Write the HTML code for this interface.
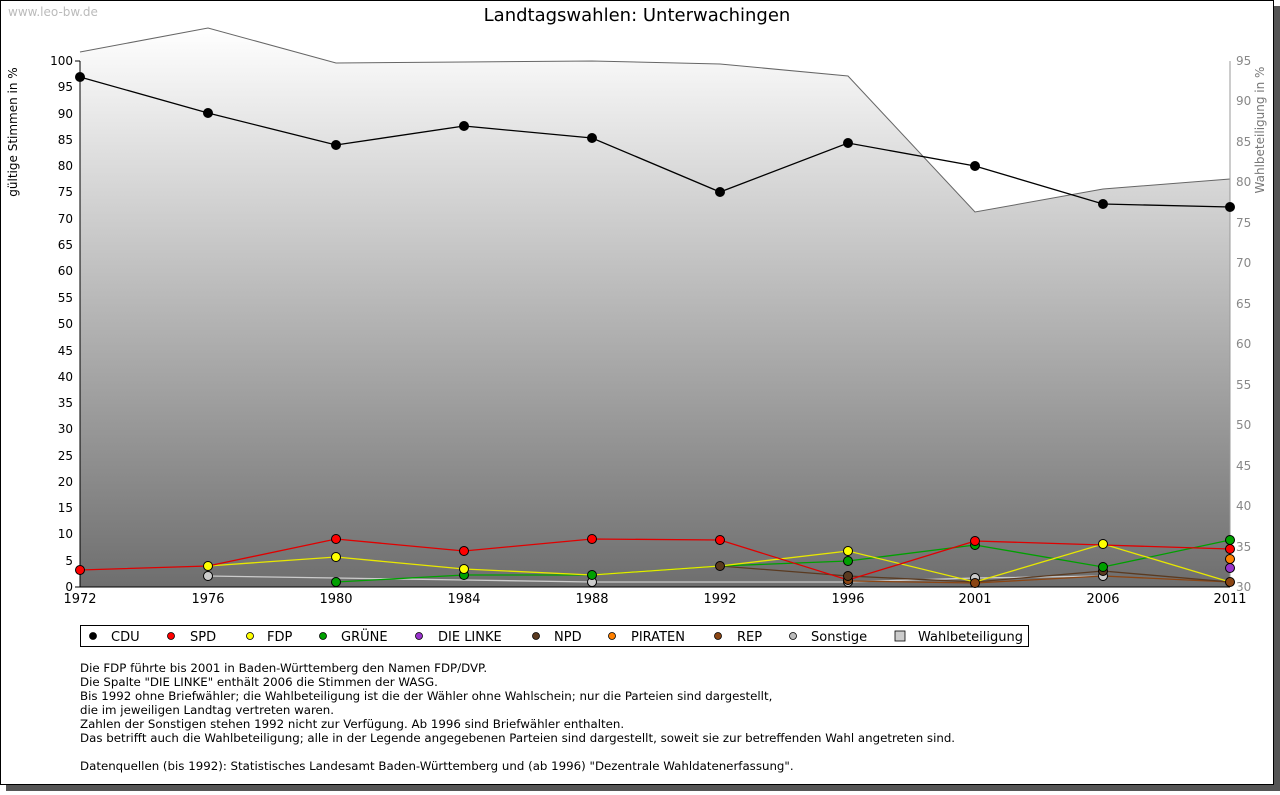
<!DOCTYPE html>
<html><head><meta charset="utf-8"><style>
body{margin:0;background:#fff;width:1280px;height:791px;overflow:hidden;font-family:"DejaVu Sans","Liberation Sans",sans-serif}
</style></head><body>
<svg width="1280" height="791" xmlns="http://www.w3.org/2000/svg" font-family="DejaVu Sans, Liberation Sans, sans-serif">
<defs>
<linearGradient id="g" x1="0" y1="28" x2="0" y2="587" gradientUnits="userSpaceOnUse">
<stop offset="0" stop-color="#ffffff"/><stop offset="1" stop-color="#6e6e6e"/></linearGradient>
</defs>
<rect x="6" y="6" width="1274" height="785" fill="#555"/>
<rect x="0.5" y="0.5" width="1273" height="784" fill="#fff" stroke="#000"/>
<text x="8" y="16" font-size="12" fill="#bbb">www.leo-bw.de</text>
<text x="637" y="21" font-size="18" text-anchor="middle" fill="#000">Landtagswahlen: Unterwachingen</text>
<polygon points="80,52 208,28 336,63 464,62 592,61 720,64 848,76 975,212 1103,189 1230,179 1230,587 80,587" fill="url(#g)"/>
<polyline points="80,52 208,28 336,63 464,62 592,61 720,64 848,76 975,212 1103,189 1230,179" fill="none" stroke="#666" stroke-width="1"/>
<g stroke="#000" stroke-width="1">
<line x1="80" y1="61" x2="80" y2="587"/><line x1="80" y1="587" x2="1230" y2="587"/>
<line x1="1230" y1="61" x2="1230" y2="587" stroke="#999"/>
</g>
<g font-size="12" text-anchor="end" fill="#000">
<text x="73" y="538">10</text><text x="73" y="591">0</text><text x="73" y="565">5</text><text x="73" y="512">15</text><text x="73" y="486">20</text><text x="73" y="460">25</text><text x="73" y="433">30</text><text x="73" y="407">35</text><text x="73" y="381">40</text><text x="73" y="355">45</text><text x="73" y="328">50</text><text x="73" y="302">55</text><text x="73" y="275">60</text><text x="73" y="249">65</text><text x="73" y="223">70</text><text x="73" y="196">75</text><text x="73" y="170">80</text><text x="73" y="144">85</text><text x="73" y="118">90</text><text x="73" y="91">95</text><text x="73" y="65">100</text>
</g>
<g stroke="#000"><line x1="75" y1="61" x2="80" y2="61"/><line x1="75" y1="587" x2="80" y2="587"/></g>
<g font-size="12" fill="#888">
<text x="1236" y="591">30</text><text x="1236" y="551">35</text><text x="1236" y="510">40</text><text x="1236" y="470">45</text><text x="1236" y="429">50</text><text x="1236" y="389">55</text><text x="1236" y="348">60</text><text x="1236" y="308">65</text><text x="1236" y="267">70</text><text x="1236" y="227">75</text><text x="1236" y="186">80</text><text x="1236" y="146">85</text><text x="1236" y="105">90</text><text x="1236" y="65">95</text>
</g>
<text transform="translate(17,132) rotate(-90)" font-size="12" text-anchor="middle">gültige Stimmen in %</text>
<text transform="translate(1264,130) rotate(-90)" font-size="12" fill="#777" text-anchor="middle">Wahlbeteiligung in %</text>
<g font-size="13" text-anchor="middle">
<text x="80" y="603">1972</text><text x="208" y="603">1976</text><text x="336" y="603">1980</text><text x="464" y="603">1984</text><text x="592" y="603">1988</text><text x="720" y="603">1992</text><text x="848" y="603">1996</text><text x="975" y="603">2001</text><text x="1103" y="603">2006</text><text x="1230" y="603">2011</text>
</g>
<g fill="none" stroke-width="1.3">
<polyline stroke="#ccc" points="208,576 336,578 464,580 592,582 848,582 975,578 1103,576"/>
<polyline stroke="#8b4513" points="848,581 975,583 1103,576 1230,582"/>
<polyline stroke="#5a3a20" points="720,566 848,576 975,582 1103,571 1230,582"/>
<polyline stroke="#00a000" points="336,582 464,575 592,575 720,566 848,561 975,545 1103,567 1230,540"/>
<polyline stroke="#e8e800" points="208,566 336,557 464,569 592,575 720,566 848,551 975,582 1103,544 1230,582"/>
<polyline stroke="#e00000" points="80,570 208,566 336,539 464,551 592,539 720,540 848,580 975,541 1103,545 1230,549"/>
<polyline stroke="#000" points="80,77 208,113 336,145 464,126 592,138 720,192 848,143 975,166 1103,204 1230,207"/>
</g>
<g stroke="#000" stroke-width="1">
<g fill="#ccc"><circle cx="208" cy="576" r="4.5"/><circle cx="592" cy="582" r="4.5"/><circle cx="848" cy="582" r="4.5"/><circle cx="975" cy="578" r="4.5"/><circle cx="1103" cy="576" r="4.5"/></g>
<g fill="#8b4513"><circle cx="848" cy="580" r="4.5"/><circle cx="975" cy="583" r="4.5"/><circle cx="1230" cy="582" r="4.5"/></g>
<g fill="#5a3a20"><circle cx="720" cy="566" r="4.5"/><circle cx="848" cy="576" r="4.5"/><circle cx="1103" cy="571" r="4.5"/></g>
<g fill="#00a000"><circle cx="336" cy="582" r="4.5"/><circle cx="464" cy="575" r="4.5"/><circle cx="592" cy="575" r="4.5"/><circle cx="848" cy="561" r="4.5"/><circle cx="975" cy="545" r="4.5"/><circle cx="1103" cy="567" r="4.5"/><circle cx="1230" cy="540" r="4.5"/></g>
<g fill="#ffff00"><circle cx="208" cy="566" r="4.5"/><circle cx="336" cy="557" r="4.5"/><circle cx="464" cy="569" r="4.5"/><circle cx="848" cy="551" r="4.5"/><circle cx="1103" cy="544" r="4.5"/></g>
<g fill="#ff0000"><circle cx="80" cy="570" r="4.5"/><circle cx="336" cy="539" r="4.5"/><circle cx="464" cy="551" r="4.5"/><circle cx="592" cy="539" r="4.5"/><circle cx="720" cy="540" r="4.5"/><circle cx="975" cy="541" r="4.5"/><circle cx="1230" cy="549" r="4.5"/></g>
<circle cx="1230" cy="559" r="4.5" fill="#ff8000"/><circle cx="1230" cy="568" r="4.5" fill="#9933cc"/>
<g fill="#000"><circle cx="80" cy="77" r="4.5"/><circle cx="208" cy="113" r="4.5"/><circle cx="336" cy="145" r="4.5"/><circle cx="464" cy="126" r="4.5"/><circle cx="592" cy="138" r="4.5"/><circle cx="720" cy="192" r="4.5"/><circle cx="848" cy="143" r="4.5"/><circle cx="975" cy="166" r="4.5"/><circle cx="1103" cy="204" r="4.5"/><circle cx="1230" cy="207" r="4.5"/></g>
</g>
<rect x="80.5" y="625.5" width="948" height="21" fill="#fff" stroke="#000"/>
<g stroke="#000" stroke-width="0.8">
<circle cx="93" cy="636" r="3.5" fill="#000"/><circle cx="171" cy="636" r="3.5" fill="#f00"/><circle cx="250" cy="636" r="3.5" fill="#ff0"/><circle cx="323" cy="636" r="3.5" fill="#00a000"/><circle cx="419" cy="636" r="3.5" fill="#9933cc"/><circle cx="536" cy="636" r="3.5" fill="#5a3a20"/><circle cx="612" cy="636" r="3.5" fill="#ff8000"/><circle cx="718" cy="636" r="3.5" fill="#8b4513"/><circle cx="793" cy="636" r="3.5" fill="#bbb"/><rect x="895" y="631" width="10" height="10" fill="#ccc"/>
</g>
<g font-size="13">
<text x="111" y="641">CDU</text><text x="190" y="641">SPD</text><text x="267" y="641">FDP</text><text x="341" y="641">GRÜNE</text><text x="438" y="641">DIE LINKE</text><text x="554" y="641">NPD</text><text x="631" y="641">PIRATEN</text><text x="737" y="641">REP</text><text x="811" y="641">Sonstige</text><text x="918" y="641">Wahlbeteiligung</text>
</g>
<g font-size="11.8">
<text x="80" y="672">Die FDP führte bis 2001 in Baden-Württemberg den Namen FDP/DVP.</text>
<text x="80" y="686">Die Spalte "DIE LINKE" enthält 2006 die Stimmen der WASG.</text>
<text x="80" y="700">Bis 1992 ohne Briefwähler; die Wahlbeteiligung ist die der Wähler ohne Wahlschein; nur die Parteien sind dargestellt,</text>
<text x="80" y="714">die im jeweiligen Landtag vertreten waren.</text>
<text x="80" y="728">Zahlen der Sonstigen stehen 1992 nicht zur Verfügung. Ab 1996 sind Briefwähler enthalten.</text>
<text x="80" y="742">Das betrifft auch die Wahlbeteiligung; alle in der Legende angegebenen Parteien sind dargestellt, soweit sie zur betreffenden Wahl angetreten sind.</text>
<text x="80" y="770">Datenquellen (bis 1992): Statistisches Landesamt Baden-Württemberg und (ab 1996) "Dezentrale Wahldatenerfassung".</text>
</g>
</svg>
</body></html>
